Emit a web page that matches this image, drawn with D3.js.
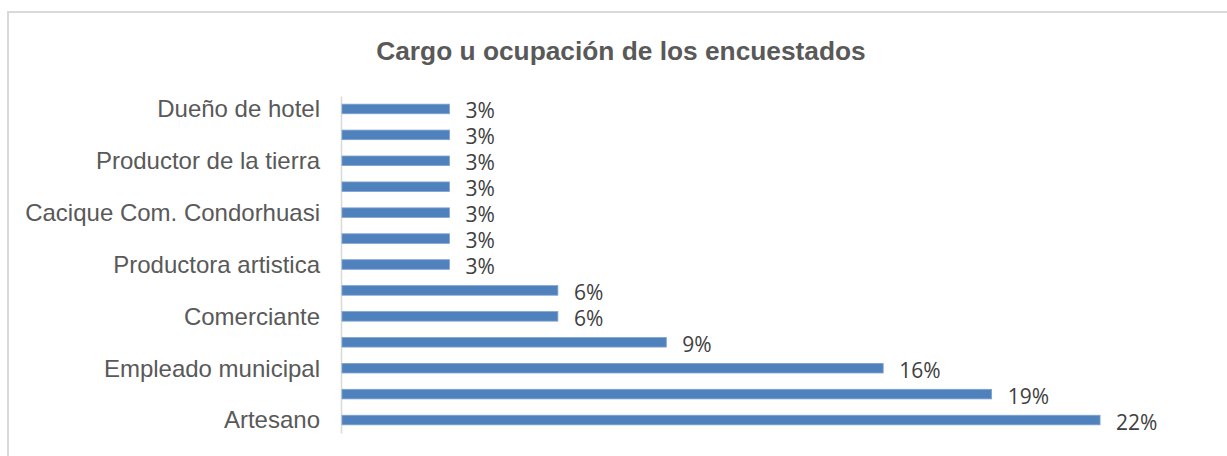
<!DOCTYPE html>
<html>
<head>
<meta charset="utf-8">
<script src="https://cdn.jsdelivr.net/npm/d3@7"></script>
<style>
  html, body { margin: 0; padding: 0; background: #ffffff; }
  svg { display: block; }
</style>
</head>
<body>
<script>
// Data (Excel order: first category at the bottom)
const categories = [
  "Artesano", "", "Empleado municipal", "", "Comerciante", "",
  "Productora artistica", "", "Cacique Com. Condorhuasi", "",
  "Productor de la tierra", "", "Dueño de hotel"
];
const values = [21.875, 18.75, 15.625, 9.375, 6.25, 6.25, 3.125, 3.125, 3.125, 3.125, 3.125, 3.125, 3.125];
const titleText = "Cargo u ocupación de los encuestados";

const W = 1227, H = 456;
const svg = d3.select("body").append("svg").attr("width", W).attr("height", H);

// chart frame
svg.append("rect")
  .attr("x", 8).attr("y", 12).attr("width", 1240).attr("height", 470)
  .attr("fill", "#ffffff").attr("stroke", "#d9d9d9").attr("stroke-width", 2);

// title
svg.append("text")
  .attr("x", 621).attr("y", 60)
  .attr("text-anchor", "middle")
  .attr("font-family", "'Liberation Sans', Arial, sans-serif")
  .attr("font-weight", "bold")
  .attr("font-size", 26.3)
  .attr("fill", "#595959")
  .text(titleText);

const idx = d3.range(categories.length);
const y = d3.scaleBand()
  .domain(idx.slice().reverse())
  .range([96, 433])
  .paddingInner(0.63)
  .paddingOuter(0.315);

const x = d3.scaleLinear().domain([0, 25]).range([341, 1208.5]);

// category axis
const yAxis = d3.axisLeft(y)
  .tickSize(0)
  .tickSizeOuter(0)
  .tickPadding(21)
  .tickFormat(i => categories[i]);

const gy = svg.append("g").attr("transform", `translate(${x(0)},0)`).call(yAxis);
gy.select(".domain").attr("stroke", "#d9d9d9").attr("stroke-width", 1.5);
gy.selectAll(".tick text")
  .attr("font-family", "'Liberation Sans', Arial, sans-serif")
  .attr("font-size", 24)
  .attr("fill", "#595959")
  .attr("dy", "0.35em");

// bars
svg.append("g").selectAll("rect")
  .data(idx)
  .join("rect")
  .attr("x", x(0) + 1)
  .attr("y", i => y(i))
  .attr("width", i => x(values[i]) - x(0) - 1)
  .attr("height", y.bandwidth())
  .attr("fill", "#4f81bd")
  .attr("stroke", "#7fa3d0")
  .attr("stroke-width", 0.8);

// data labels
const fmt = d3.format(".0f");
svg.append("g").selectAll("text")
  .data(idx)
  .join("text")
  .attr("x", i => x(values[i]) + 16)
  .attr("y", i => y(i) + y.bandwidth() / 2 + 9.5)
  .attr("font-family", "'Open Sans', sans-serif")
  .attr("font-size", 21)
  .attr("fill", "#404040")
  .text(i => fmt(values[i]) + "%");
</script>
</body>
</html>
